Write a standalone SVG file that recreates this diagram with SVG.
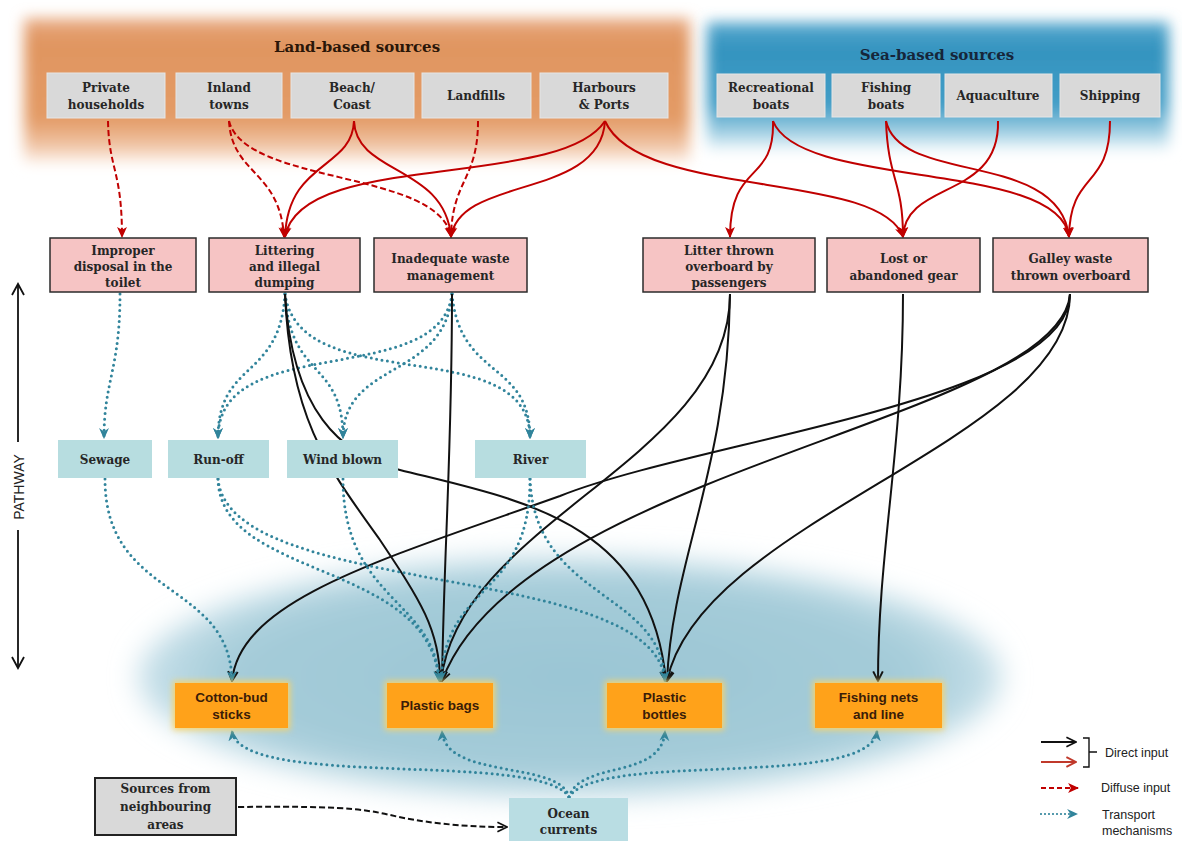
<svg xmlns="http://www.w3.org/2000/svg" width="1182" height="841" viewBox="0 0 1182 841">
<style>
.lbl{font-family:"DejaVu Serif","Liberation Serif",serif;font-weight:bold;font-size:12px;fill:#262626;text-anchor:middle}
.ttl{font-family:"DejaVu Serif","Liberation Serif",serif;font-weight:bold;font-size:15px;text-anchor:middle}
.prod{font-family:"Liberation Sans",Arial,sans-serif;font-weight:bold;font-size:13.5px;fill:#3a1c08;text-anchor:middle}
.leg{font-family:"Liberation Sans",Arial,sans-serif;font-size:12.5px;fill:#222}
.gray{fill:#d9d9d9;stroke:#e6e6e6;stroke-width:1}
.pink{fill:#f6c4c4;stroke:#2b2b2b;stroke-width:1.5}
.teal{fill:#b7dde0}
.orange{fill:#ffa21a}
.red{fill:none;stroke:#c00000;stroke-width:2;marker-end:url(#ar)}
.redd{fill:none;stroke:#c00000;stroke-width:2;stroke-dasharray:6 3;marker-end:url(#ar)}
.blk{fill:none;stroke:#111;stroke-width:2;marker-end:url(#ab)}
.dot{fill:none;stroke:#31849b;stroke-width:3;stroke-linecap:round;stroke-dasharray:0 5.5;marker-end:url(#at)}
</style>
<defs>
<marker id="ar" viewBox="0 0 10 10" refX="9" refY="5" markerWidth="11" markerHeight="11" markerUnits="userSpaceOnUse" orient="auto"><path d="M0,0.5 L10,5 L0,9.5 L2.5,5 z" fill="#c00000"/></marker>
<marker id="ab" viewBox="0 0 10 10" refX="9" refY="5" markerWidth="12" markerHeight="12" markerUnits="userSpaceOnUse" orient="auto"><path d="M1,1 L9,5 L1,9" fill="none" stroke="#111" stroke-width="1.6"/></marker>
<marker id="at" viewBox="0 0 10 10" refX="9" refY="5" markerWidth="11" markerHeight="11" markerUnits="userSpaceOnUse" orient="auto"><path d="M0,0.5 L10,5 L0,9.5 L3,5 z" fill="#31849b"/></marker>
<marker id="ap" viewBox="0 0 10 10" refX="9" refY="5" markerWidth="12" markerHeight="12" markerUnits="userSpaceOnUse" orient="auto"><path d="M1,1 L9,5 L1,9" fill="none" stroke="#111" stroke-width="1.4"/></marker>
<marker id="alr" viewBox="0 0 10 10" refX="9" refY="5" markerWidth="12" markerHeight="12" markerUnits="userSpaceOnUse" orient="auto"><path d="M1,1 L9,5 L1,9" fill="none" stroke="#c0392b" stroke-width="1.6"/></marker>
<linearGradient id="landG" x1="0" y1="0" x2="0" y2="1">
<stop offset="0" stop-color="#eab08a"/><stop offset="0.15" stop-color="#e09560"/><stop offset="0.7" stop-color="#e39b66"/><stop offset="0.88" stop-color="#f0c4a4"/><stop offset="1" stop-color="#fdf3ec"/>
</linearGradient>
<linearGradient id="seaG" x1="0" y1="0" x2="0" y2="1">
<stop offset="0" stop-color="#5cabd0"/><stop offset="0.2" stop-color="#3393bf"/><stop offset="0.65" stop-color="#429dc6"/><stop offset="0.88" stop-color="#a9d4e6"/><stop offset="1" stop-color="#f2f9fc"/>
</linearGradient>
<radialGradient id="seaE" cx="0.5" cy="0.5" r="0.5">
<stop offset="0" stop-color="#9ac5d4"/><stop offset="0.8" stop-color="#a5ccd9"/><stop offset="1" stop-color="#c9e1ea"/>
</radialGradient>
<filter id="bl" x="-10%" y="-30%" width="120%" height="160%"><feGaussianBlur stdDeviation="7"/></filter>
<filter id="bl2" x="-10%" y="-30%" width="120%" height="160%"><feGaussianBlur stdDeviation="14"/></filter>
<filter id="gl" x="-20%" y="-30%" width="140%" height="160%"><feGaussianBlur stdDeviation="3"/></filter>
</defs>
<rect width="1182" height="841" fill="#ffffff"/>
<g id="backgrounds">
<rect x="24" y="18" width="666" height="145" fill="url(#landG)" filter="url(#bl)"/>
<rect x="707" y="22" width="462" height="128" fill="url(#seaG)" filter="url(#bl)"/>
<ellipse cx="570" cy="677" rx="432" ry="120" fill="url(#seaE)" filter="url(#bl2)"/>
</g>
<g id="pathway-axis">
<line x1="18" y1="286" x2="18" y2="442" stroke="#111" stroke-width="1.8"/>
<path d="M12,295 L18,284 L24,295" fill="none" stroke="#111" stroke-width="1.8"/>
<line x1="18" y1="530" x2="18" y2="666" stroke="#111" stroke-width="1.8"/>
<path d="M12,657 L18,668 L24,657" fill="none" stroke="#111" stroke-width="1.8"/>
<text x="0" y="0" transform="translate(24,487) rotate(-90)" text-anchor="middle" font-family="Liberation Sans, Arial, sans-serif" font-size="14" fill="#222">PATHWAY</text>
</g>
<g id="connectors">
<path class="redd" d="M108,121 C109,170 122,170 122,237"/>
<path class="redd" d="M229,121 C232,175 280,170 284,237"/>
<path class="redd" d="M229,121 C245,185 440,170 451,237"/>
<path class="red" d="M354,121 C352,170 288,160 285,237"/>
<path class="red" d="M354,121 C356,175 445,165 451,237"/>
<path class="redd" d="M478,121 C478,180 452,180 451,237"/>
<path class="red" d="M605,121 C560,190 300,150 285,237"/>
<path class="red" d="M605,121 C600,200 460,175 451,237"/>
<path class="red" d="M605,121 C640,200 880,170 903,237"/>
<path class="red" d="M773,121 C775,185 730,160 730,237"/>
<path class="red" d="M773,121 C800,190 1060,160 1069,237"/>
<path class="red" d="M886,121 C888,180 903,180 903,237"/>
<path class="red" d="M886,121 C900,185 1060,150 1069,237"/>
<path class="red" d="M998,121 C1000,200 905,180 903,237"/>
<path class="red" d="M1110,121 C1110,190 1070,170 1069,237"/>
<path class="dot" d="M120,294 C120,370 104,380 104,438"/>
<path class="dot" d="M285,294 C280,380 218,360 218,438"/>
<path class="dot" d="M285,294 C290,380 343,360 343,438"/>
<path class="dot" d="M285,294 C300,400 530,330 530,438"/>
<path class="dot" d="M452,294 C440,390 218,330 218,438"/>
<path class="dot" d="M452,294 C445,380 343,360 343,438"/>
<path class="dot" d="M452,294 C460,380 530,360 530,438"/>
<path class="blk" d="M285,294 C290,420 330,470 380,540 C420,600 440,630 440,681"/>
<path class="blk" d="M285,294 C292,410 340,455 400,470 C520,500 650,520 666,681"/>
<path class="blk" d="M452,294 C452,450 444,550 442,681"/>
<path class="blk" d="M730,294 C730,460 460,520 441,681"/>
<path class="blk" d="M730,294 C728,470 672,560 667,681"/>
<path class="blk" d="M903,294 C903,450 878,550 878,681"/>
<path class="blk" d="M1070,294 C1070,400 700,440 560,496 C380,560 240,600 232,681"/>
<path class="blk" d="M1070,294 C1060,420 520,470 442,681"/>
<path class="blk" d="M1070,294 C1070,440 700,520 667,681"/>
<path class="dot" d="M105,479 C105,600 230,580 232,681"/>
<path class="dot" d="M218,479 C220,580 430,560 439,681"/>
<path class="dot" d="M218,479 C230,600 655,560 665,681"/>
<path class="dot" d="M343,479 C343,600 436,600 439,681"/>
<path class="dot" d="M530,479 C530,600 445,580 441,681"/>
<path class="dot" d="M530,479 C535,600 662,590 665,681"/>
<path class="dot" d="M569,797 C540,750 240,790 232,731"/>
<path class="dot" d="M569,797 C560,760 445,780 442,731"/>
<path class="dot" d="M569,797 C580,760 662,780 665,731"/>
<path class="dot" d="M569,797 C600,750 870,790 877,731"/>
<path d="M238,807 C330,806 360,808 390,815 C420,822 460,827 507,827" fill="none" stroke="#111" stroke-width="2" stroke-dasharray="6 3" marker-end="url(#ap)"/>
</g>
<g id="land-sources">
<text class="ttl" x="357" y="52" fill="#2a1608">Land-based sources</text>
<g id="n-private"><rect class="gray" x="47" y="73" width="118" height="45"/><text class="lbl" x="106" y="92">Private</text><text class="lbl" x="106" y="109">households</text></g>
<g id="n-inland"><rect class="gray" x="176" y="73" width="106" height="45"/><text class="lbl" x="229" y="92">Inland</text><text class="lbl" x="229" y="109">towns</text></g>
<g id="n-beach"><rect class="gray" x="291" y="73" width="123" height="45"/><text class="lbl" x="352" y="92">Beach/</text><text class="lbl" x="352" y="109">Coast</text></g>
<g id="n-landfills"><rect class="gray" x="422" y="73" width="109" height="45"/><text class="lbl" x="476" y="100">Landfills</text></g>
<g id="n-harbours"><rect class="gray" x="540" y="73" width="128" height="45"/><text class="lbl" x="604" y="92">Harbours</text><text class="lbl" x="604" y="109">&amp; Ports</text></g>
</g>
<g id="sea-sources">
<text class="ttl" x="937" y="60" fill="#16263a">Sea-based sources</text>
<g id="n-recreational"><rect class="gray" x="717" y="74" width="108" height="43"/><text class="lbl" x="771" y="92">Recreational</text><text class="lbl" x="771" y="109">boats</text></g>
<g id="n-fishing"><rect class="gray" x="832" y="74" width="108" height="43"/><text class="lbl" x="886" y="92">Fishing</text><text class="lbl" x="886" y="109">boats</text></g>
<g id="n-aquaculture"><rect class="gray" x="945" y="74" width="107" height="43"/><text class="lbl" x="998" y="100">Aquaculture</text></g>
<g id="n-shipping"><rect class="gray" x="1060" y="74" width="100" height="43"/><text class="lbl" x="1110" y="100">Shipping</text></g>
</g>
<g id="pathways">
<g id="n-improper"><rect class="pink" x="50" y="238" width="146" height="54"/><text class="lbl" x="123" y="254.5">Improper</text><text class="lbl" x="123" y="271">disposal in the</text><text class="lbl" x="123" y="287">toilet</text></g>
<g id="n-littering"><rect class="pink" x="209" y="238" width="151" height="54"/><text class="lbl" x="284.5" y="254.5">Littering</text><text class="lbl" x="284.5" y="271">and illegal</text><text class="lbl" x="284.5" y="287">dumping</text></g>
<g id="n-inadequate"><rect class="pink" x="374" y="238" width="153" height="54"/><text class="lbl" x="450.5" y="262.5">Inadequate waste</text><text class="lbl" x="450.5" y="279.5">management</text></g>
<g id="n-litter-thrown"><rect class="pink" x="643" y="238" width="172" height="54"/><text class="lbl" x="729" y="254.5">Litter thrown</text><text class="lbl" x="729" y="271">overboard by</text><text class="lbl" x="729" y="287">passengers</text></g>
<g id="n-lost-gear"><rect class="pink" x="827" y="238" width="153" height="54"/><text class="lbl" x="903.5" y="262.5">Lost or</text><text class="lbl" x="903.5" y="279.5">abandoned gear</text></g>
<g id="n-galley"><rect class="pink" x="993" y="238" width="155" height="54"/><text class="lbl" x="1070.5" y="262.5">Galley waste</text><text class="lbl" x="1070.5" y="279.5">thrown overboard</text></g>
</g>
<g id="transport">
<g id="n-sewage"><rect class="teal" x="58" y="440" width="94" height="38"/><text class="lbl" x="105" y="464">Sewage</text></g>
<g id="n-runoff"><rect class="teal" x="168" y="440" width="101" height="38"/><text class="lbl" x="218.5" y="464">Run-off</text></g>
<g id="n-wind"><rect class="teal" x="287" y="440" width="111" height="38"/><text class="lbl" x="342.5" y="464">Wind blown</text></g>
<g id="n-river"><rect class="teal" x="475" y="440" width="111" height="38"/><text class="lbl" x="530.5" y="464">River</text></g>
</g>
<g id="items">
<g id="n-cotton"><rect x="173" y="681" width="117" height="49" fill="#f6d36b" filter="url(#gl)"/><rect class="orange" x="175" y="683" width="113" height="45"/><text class="prod" x="231.5" y="702">Cotton-bud</text><text class="prod" x="231.5" y="719">sticks</text></g>
<g id="n-bags"><rect x="385" y="681" width="110" height="49" fill="#f6d36b" filter="url(#gl)"/><rect class="orange" x="387" y="683" width="106" height="45"/><text class="prod" x="440" y="710">Plastic bags</text></g>
<g id="n-bottles"><rect x="605" y="681" width="119" height="49" fill="#f6d36b" filter="url(#gl)"/><rect class="orange" x="607" y="683" width="115" height="45"/><text class="prod" x="664.5" y="702">Plastic</text><text class="prod" x="664.5" y="719">bottles</text></g>
<g id="n-nets"><rect x="813" y="681" width="131" height="49" fill="#f6d36b" filter="url(#gl)"/><rect class="orange" x="815" y="683" width="127" height="45"/><text class="prod" x="878.5" y="702">Fishing nets</text><text class="prod" x="878.5" y="719">and line</text></g>
</g>
<g id="n-neighbouring"><rect x="95" y="778" width="141" height="57" fill="#d9d9d9" stroke="#222" stroke-width="2"/><text class="lbl" x="165.5" y="792.5">Sources from</text><text class="lbl" x="165.5" y="810.5">neighbouring</text><text class="lbl" x="165.5" y="828.5">areas</text></g>
<g id="n-ocean"><rect x="509" y="798" width="119" height="46" fill="#b9dde3"/><text class="lbl" x="568.5" y="817.5">Ocean</text><text class="lbl" x="568.5" y="833.5">currents</text></g>
<g id="legend">
<line x1="1041" y1="742" x2="1076" y2="742" stroke="#111" stroke-width="1.8" marker-end="url(#ap)"/>
<line x1="1041" y1="762" x2="1076" y2="762" stroke="#c0392b" stroke-width="1.8" marker-end="url(#alr)"/>
<path d="M1083,738 H1089 V767 H1083 M1089,752 H1097" fill="none" stroke="#111" stroke-width="1.4"/>
<text class="leg" x="1105" y="757">Direct input</text>
<line x1="1041" y1="788" x2="1078" y2="788" stroke="#c00000" stroke-width="2" stroke-dasharray="5 3" marker-end="url(#ar)"/>
<text class="leg" x="1101" y="792">Diffuse input</text>
<line x1="1041" y1="814" x2="1077" y2="814" stroke="#31849b" stroke-width="2.2" stroke-linecap="round" stroke-dasharray="0 4" marker-end="url(#at)"/>
<text class="leg" x="1102" y="819">Transport</text>
<text class="leg" x="1102" y="835">mechanisms</text>
</g>
</svg>
